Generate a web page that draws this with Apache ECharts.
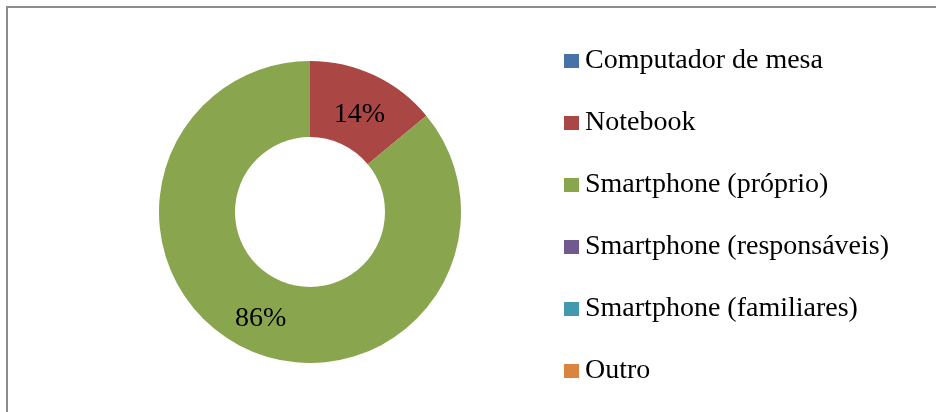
<!DOCTYPE html>
<html>
<head>
<meta charset="utf-8">
<script src="https://cdn.jsdelivr.net/npm/echarts@6/dist/echarts.min.js"></script>
<style>
  html, body { margin: 0; padding: 0; background: #fff; }
  #chart { width: 936px; height: 412px; }
</style>
</head>
<body>
<div id="chart"></div>
<script>
// aparelhos usados
var categories = ['Computador de mesa', 'Notebook', 'Smartphone (próprio)', 'Smartphone (responsáveis)', 'Smartphone (familiares)', 'Outro'];
var values = [0, 14, 86, 0, 0, 0];
var colors = ['#4572A7', '#AA4643', '#89A54E', '#71588F', '#4198AF', '#DB843D'];

var fontFam = '"Liberation Serif", "DejaVu Serif", serif';

// label nudges, excel puts them a bit off the mid radius
var labelNudge = [[0, 0], [0, 8], [0, 2], [0, 0], [0, 0], [0, 0]];

var data = [];
for (var i = 0; i < categories.length; i++) {
    data.push({ name: categories[i], value: values[i], label: { offset: labelNudge[i] } });
}

var option = {
    animation: false,
    color: colors,
    graphic: [{
        type: 'rect',
        shape: { x: 7, y: 7, width: 960, height: 440 },
        style: { fill: 'none', stroke: '#8c8c8c', lineWidth: 2 },
        silent: true
    }],
    legend: {
        orient: 'vertical',
        left: 564,
        top: 47,
        padding: 0,
        itemWidth: 15,
        itemHeight: 14,
        itemGap: 34,
        icon: 'rect',
        data: categories,
        textStyle: {
            fontFamily: fontFam,
            fontSize: 28,
            color: '#000',
            padding: [0, 0, 0, 1]
        }
    },
    series: [{
        type: 'pie',
        center: [310, 212],
        radius: [75, 151],
        startAngle: 90,
        clockwise: true,
        avoidLabelOverlap: false,
        data: data,
        itemStyle: { borderWidth: 0 },
        label: {
            position: 'inside',
            fontFamily: fontFam,
            fontSize: 28,
            color: '#000',
            formatter: function (p) {
                return p.value > 0 ? p.value + '%' : '';
            }
        },
        labelLine: { show: false },
        emphasis: { disabled: true }
    }]
};

var myChart = echarts.init(document.getElementById('chart'));
myChart.setOption(option);
</script>
</body>
</html>
